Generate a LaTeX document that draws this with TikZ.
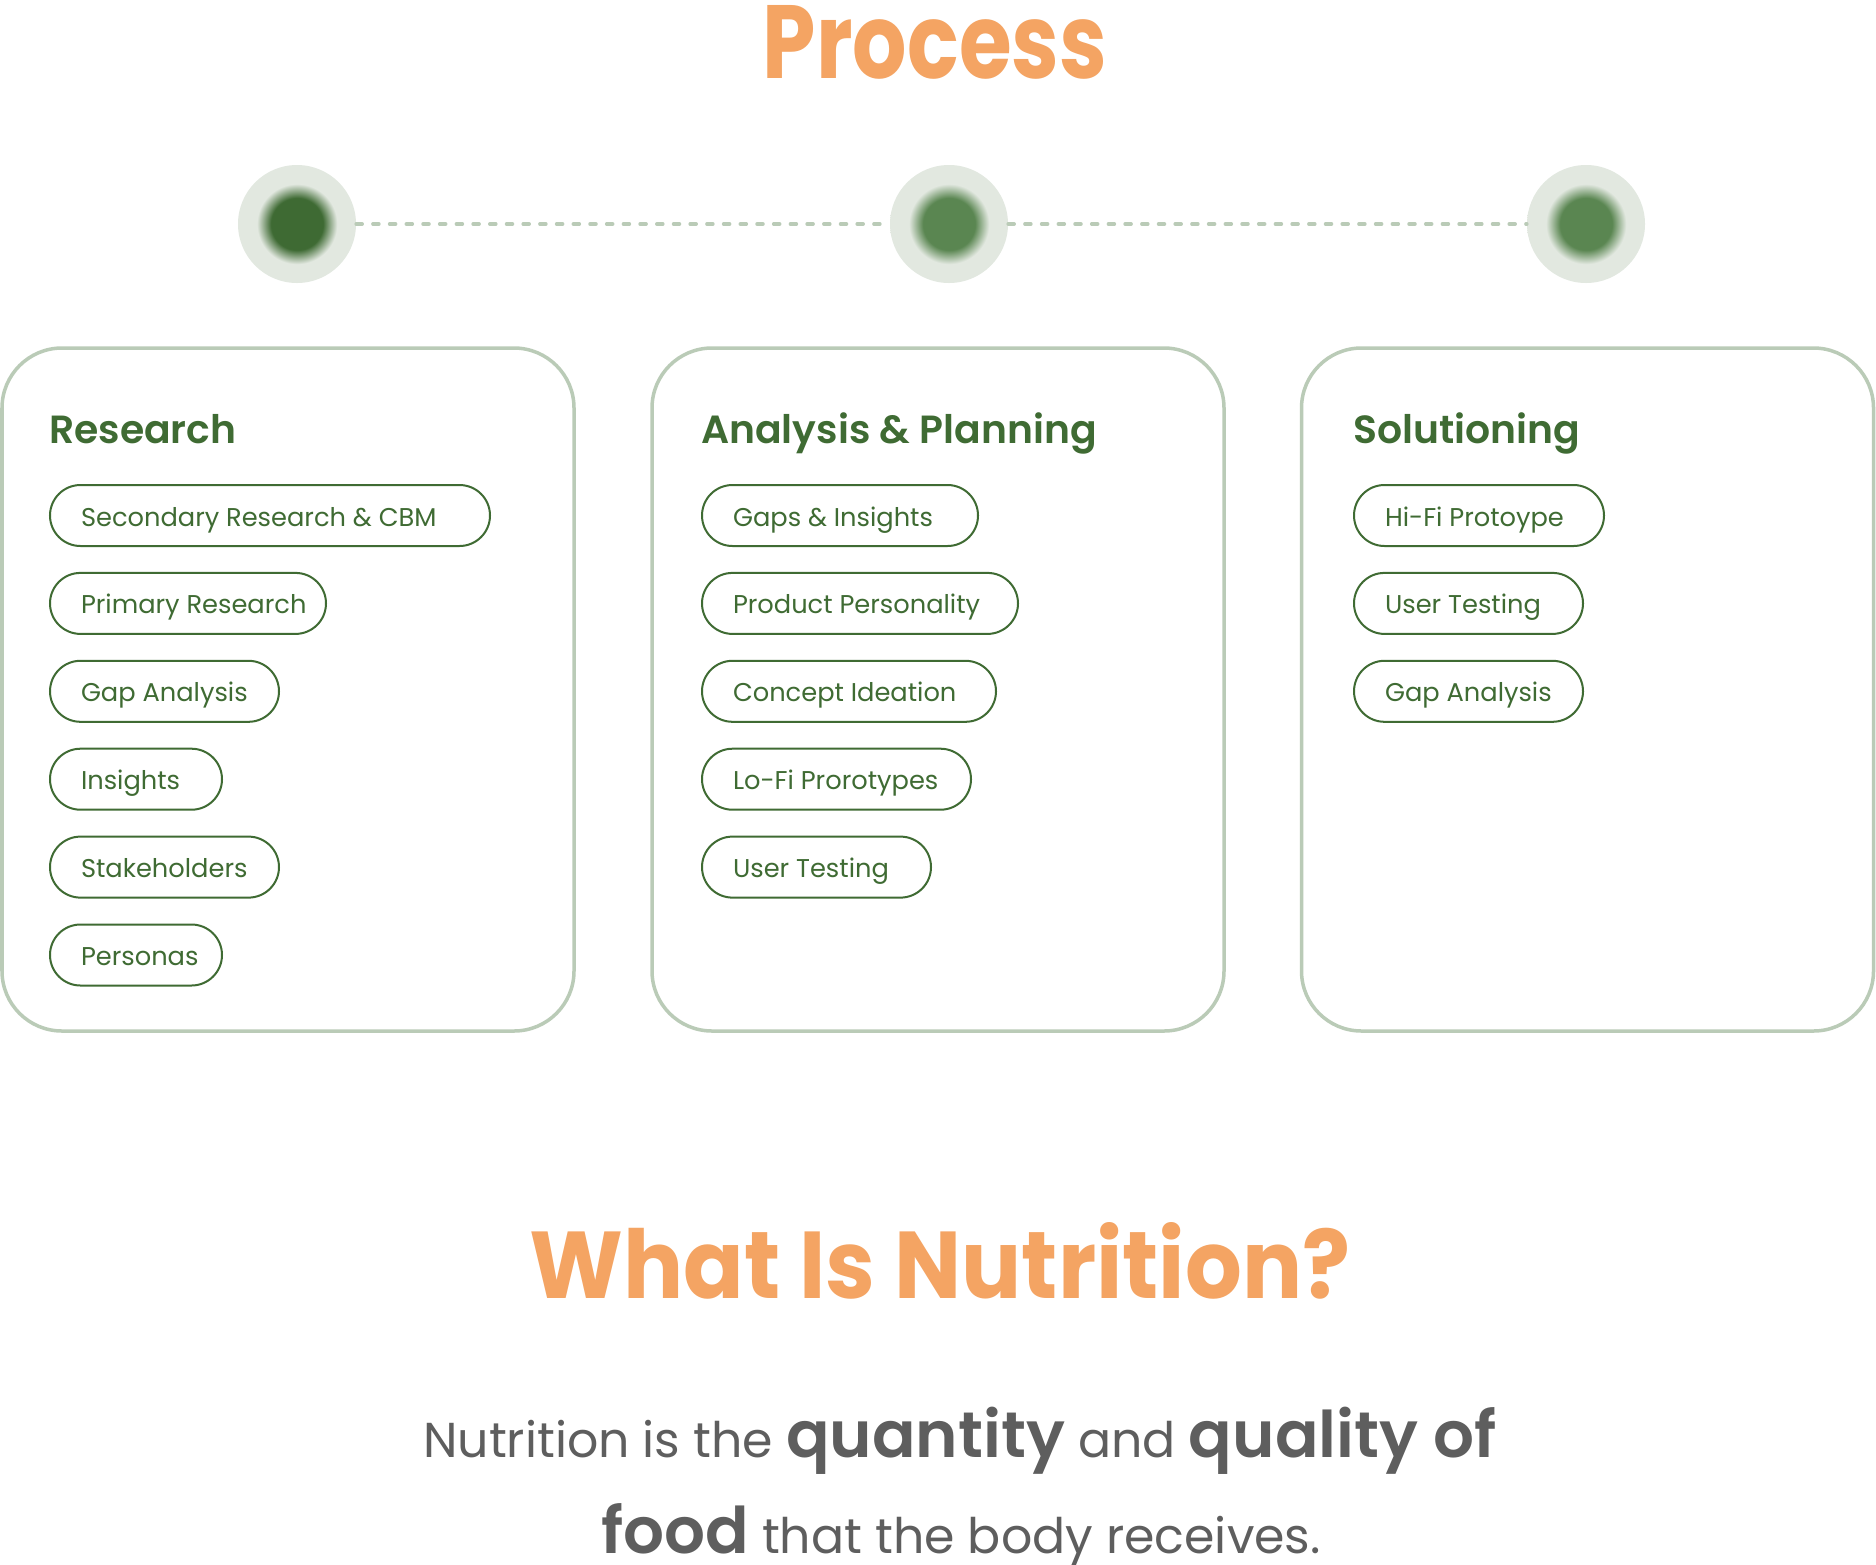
\documentclass[tikz,border=0pt]{standalone}
\usepackage{fontspec}
\setmainfont{Poppins}
\newfontfamily\semifont{Poppins SemiBold}
\usepackage{graphicx}
\usetikzlibrary{positioning}
\definecolor{leafgreen}{HTML}{3F6B33}
\definecolor{sagegray}{HTML}{BACBB7}
\definecolor{ringgray}{HTML}{E2E8E0}
\definecolor{coredark}{HTML}{3E6A33}
\definecolor{corelight}{HTML}{5A8651}
\definecolor{peach}{HTML}{F4A463}
\definecolor{inkgray}{HTML}{5E5E5E}
\pgfdeclareradialshading{glowdark}{\pgfpoint{0bp}{0bp}}{color(0bp)=(coredark); color(11bp)=(coredark); color(17bp)=(ringgray); color(50bp)=(ringgray)}
\pgfdeclareradialshading{glowlight}{\pgfpoint{0bp}{0bp}}{color(0bp)=(corelight); color(11bp)=(corelight); color(17bp)=(ringgray); color(50bp)=(ringgray)}

\begin{document}
\begin{tikzpicture}[x=1pt, y=-1pt,
    dot/.style={circle, minimum size=118pt, inner sep=0pt},
    trail/.style={sagegray, line width=3.5pt, line cap=round, dash pattern=on 6pt off 10.7pt},
    card/.style={draw=sagegray, line width=3.5pt, rounded corners=60pt, minimum width=572pt, minimum height=683pt},
    heading/.style={anchor=base west, text=leafgreen, inner sep=0pt, font=\semifont\fontsize{39.3}{46}\selectfont},
    pill/.style={draw=leafgreen, line width=2pt, rounded corners=30.5pt, minimum height=61pt, inner xsep=31pt,
      text height=23pt, text depth=2pt, anchor=west, text=leafgreen, font=\fontsize{25.7}{30}\selectfont}]
  \fill[white] (0,0) rectangle (1876,1564);
  \useasboundingbox (0,0) rectangle (1876,1564);

  % title
  \node[anchor=base, text=peach, inner sep=0pt] (process) at (935,78) {\resizebox{344pt}{73pt}{\bfseries Process}};

  % timeline
  \node[dot, shading=glowdark] (dot1) at (297,224) {};
  \node[dot, shading=glowlight] (dot2) at (949,224) {};
  \node[dot, shading=glowlight] (dot3) at (1586,224) {};
  \draw[trail] (dot1) -- (dot2);
  \draw[trail] (dot2) -- (dot3);

  % phase cards
  \node[card] (research) at (288,689.5) {};
  \node[card] (analysis) at (938,689.5) {};
  \node[card] (solution) at (1587.5,689.5) {};

  \node[heading] (researchhead) at (49,443) {Research};
  \node[heading] (analysishead) at (701,443) {Analysis \& Planning};
  \node[heading] (solutionhead) at (1353,443) {Solutioning};

  \foreach \w/\lbl [count=\i] in {440/Secondary Research \& CBM, 276/Primary Research, 229/Gap Analysis,
      172/Insights, 229/Stakeholders, 172/Personas}
    \node[pill] (res\i) at (49,{515.5+87.9*(\i-1)}) {\makebox[\dimexpr\w pt-62pt\relax][l]{\lbl}};

  \foreach \w/\lbl [count=\i] in {276/Gaps \& Insights, 316/Product Personality, 294/Concept Ideation,
      269/Lo-Fi Prorotypes, 229/User Testing}
    \node[pill] (ana\i) at (701,{515.5+87.9*(\i-1)}) {\makebox[\dimexpr\w pt-62pt\relax][l]{\lbl}};

  \foreach \w/\lbl [count=\i] in {250/Hi-Fi Protoype, 229/User Testing, 229/Gap Analysis}
    \node[pill] (sol\i) at (1353,{515.5+87.9*(\i-1)}) {\makebox[\dimexpr\w pt-62pt\relax][l]{\lbl}};

  % nutrition
  \node[anchor=base, text=peach, inner sep=0pt] (nutrition) at (940,1298) {\resizebox{820pt}{76pt}{\bfseries What Is Nutrition?}};
  \node[anchor=base, text=inkgray, inner sep=0pt] (line1) at (960,1457)
    {\fontsize{49}{60}\selectfont Nutrition is the {\semifont\fontsize{64.3}{70}\selectfont quantity} and {\semifont\fontsize{64.3}{70}\selectfont quality of}};
  \node[anchor=base, text=inkgray, inner sep=0pt] (line2) at (961,1553)
    {\fontsize{49}{60}\selectfont{\semifont\fontsize{64.3}{70}\selectfont food}\ that the body receives.};
\end{tikzpicture}
\end{document}
